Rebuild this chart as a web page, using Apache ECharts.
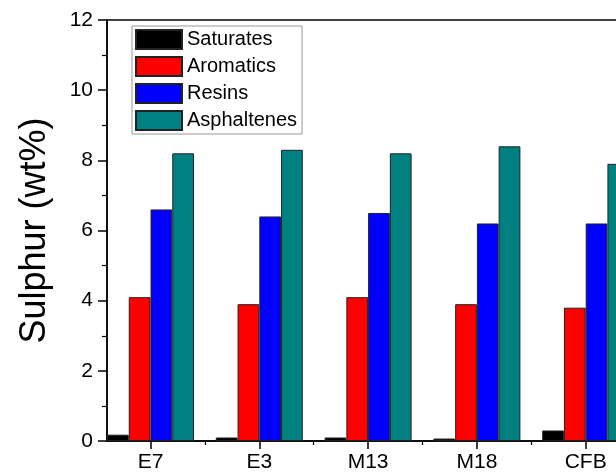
<!DOCTYPE html>
<html>
<head>
<meta charset="utf-8">
<script src="https://cdn.jsdelivr.net/npm/echarts@6/dist/echarts.min.js"></script>
<style>html,body{margin:0;padding:0;background:#fff}#c{width:616px;height:476px}</style>
</head>
<body>
<div id="c"></div>
<script>
const categories = ['E7', 'E3', 'M13', 'M18', 'CFB'];
const saturates = [0.18, 0.10, 0.10, 0.07, 0.30];
const aromatics = [4.1, 3.9, 4.1, 3.9, 3.8];
const resins = [6.6, 6.4, 6.5, 6.2, 6.2];
const asphaltenes = [8.2, 8.3, 8.2, 8.4, 7.9];
const seriesNames = ['Saturates', 'Aromatics', 'Resins', 'Asphaltenes'];
const seriesColors = ['#000000', '#ff0000', '#0000ff', '#008080'];

const FONT = 'Liberation Sans, Arial, sans-serif';
const pos = categories.map((c, i) => i + 1);
const majorTicks = [1, 2, 3, 4, 5, 6];
const minorTicks = [1.5, 2.5, 3.5, 4.5, 5.5];

function mk(name, vals, color) {
  return {
    name: name,
    type: 'bar',
    xAxisIndex: 0,
    barWidth: 21.75,
    barGap: '0%',
    itemStyle: { color: color, borderColor: '#222', borderWidth: 1 },
    data: vals.map((v, i) => [pos[i], v])
  };
}

const chart = echarts.init(document.getElementById('c'));
chart.setOption({
  animation: false,
  textStyle: { fontFamily: FONT },
  grid: { left: 107, top: 20, width: 631, height: 421, show: true, borderColor: '#000', borderWidth: 1.5, containLabel: false, outerBoundsMode: 'none' },
  legend: {
    orient: 'vertical', left: 132, top: 26,
    padding: [3, 5, 3, 3],
    itemWidth: 46, itemHeight: 19, itemGap: 6,
    borderColor: '#999', borderWidth: 1, backgroundColor: '#fff',
    icon: 'rect',
    textStyle: { fontSize: 20, color: '#000', fontFamily: FONT, padding: [0, 0, 0, 0] },
    data: seriesNames
  },
  xAxis: [
    {
      type: 'value', min: 0.6, max: 6.4, position: 'bottom',
      axisLine: { show: true, lineStyle: { color: '#000', width: 1.5 } },
      axisTick: { show: true, customValues: majorTicks, length: 8, lineStyle: { color: '#000', width: 1.5 } },
      axisLabel: { show: true, customValues: pos, formatter: v => categories[Math.round(v) - 1] || '', fontSize: 21, color: '#000', margin: 11, fontFamily: FONT },
      splitLine: { show: false }
    },
    {
      type: 'value', min: 0.6, max: 6.4, position: 'bottom', offset: 0,
      axisLine: { show: false },
      axisTick: { show: true, customValues: minorTicks, length: 4, lineStyle: { color: '#000', width: 1.2 } },
      axisLabel: { show: false },
      splitLine: { show: false }
    }
  ],
  yAxis: {
    type: 'value', min: 0, max: 12, interval: 2,
    name: 'Sulphur (wt%)', nameLocation: 'middle', nameGap: 54,
    nameTextStyle: { fontSize: 36, color: '#000', fontFamily: FONT },
    axisLine: { show: true, lineStyle: { color: '#000', width: 1.5 } },
    axisTick: { show: true, length: 9, lineStyle: { color: '#000', width: 1.5 } },
    minorTick: { show: true, splitNumber: 2, length: 5, lineStyle: { color: '#000', width: 1.2 } },
    axisLabel: { fontSize: 21, color: '#000', margin: 14, fontFamily: FONT },
    splitLine: { show: false }
  },
  series: [
    mk(seriesNames[0], saturates, seriesColors[0]),
    mk(seriesNames[1], aromatics, seriesColors[1]),
    mk(seriesNames[2], resins, seriesColors[2]),
    mk(seriesNames[3], asphaltenes, seriesColors[3])
  ]
});
</script>
</body>
</html>
